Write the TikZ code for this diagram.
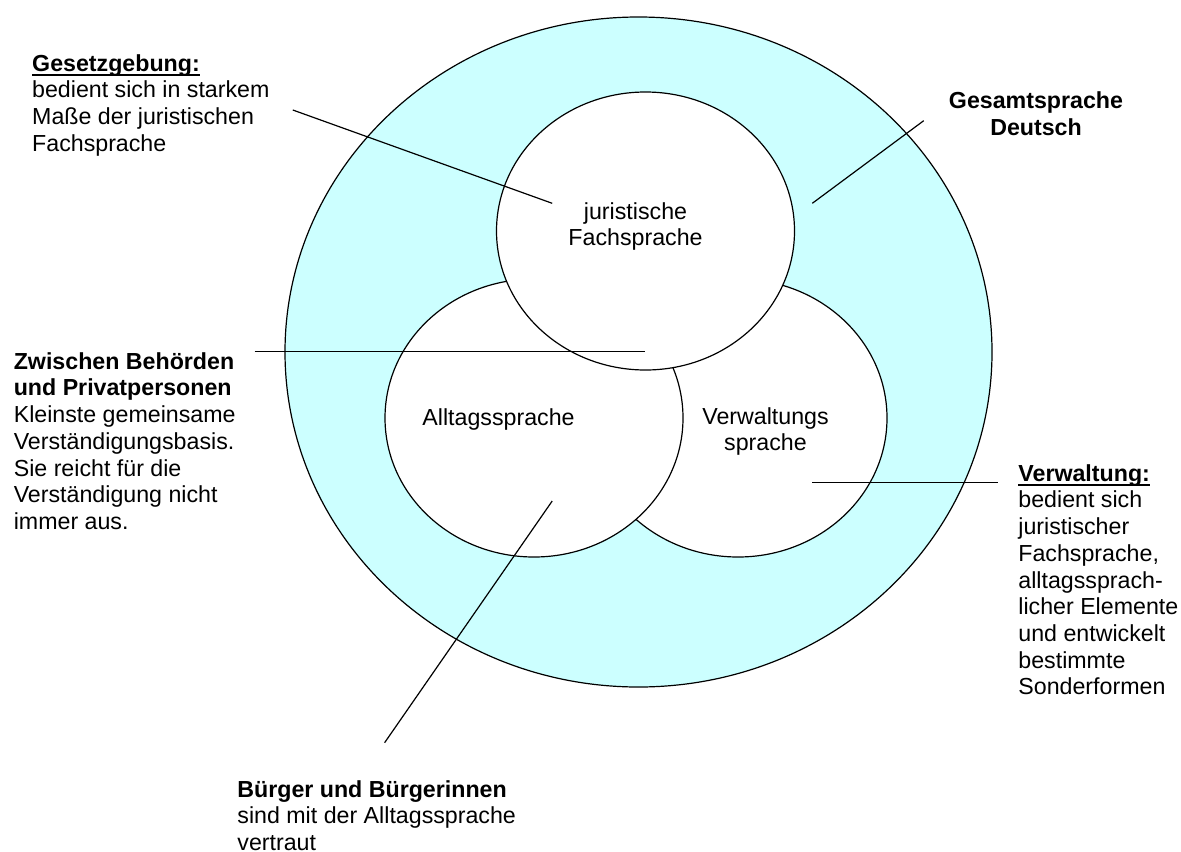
\documentclass[tikz,border=0pt]{standalone}
\usepackage{fontspec}
\setmainfont{Liberation Sans}
\usepackage{tikz}
\usetikzlibrary{positioning}

\definecolor{ringcyan}{RGB}{204,255,255}
\newcommand{\ulhead}[1]{\leavevmode\setbox0\hbox{\textbf{#1}}\rlap{\rule[-2.2pt]{\wd0}{0.8pt}}\box0}

\tikzset{
  lbl/.style={inner sep=0pt, align=left, font=\fontsize{11.6}{13.35}\selectfont},
  lblc/.style={lbl, align=center},
  ring/.style={draw=black, line width=0.6pt},
  pointer/.style={draw=black, line width=0.6pt}
}

\begin{document}
\begin{tikzpicture}[x=0.5pt, y=-0.5pt]
		\useasboundingbox (0,0) rectangle (1181,851);
		
		% Draw Shape
		\draw[ring, fill=ringcyan] (638.5,352) ellipse [x radius=353.5, y radius=335];
		\draw[ring, fill=white] (738,418) ellipse [x radius=149, y radius=139];
		\draw[ring, fill=white] (534,418) ellipse [x radius=149, y radius=139];
		\draw[ring, fill=white] (645.5,231) ellipse [x radius=149, y radius=139];
		
		% Pointer lines
		\coordinate (gesetz-a) at (292.8,110);
		\coordinate (gesetz-b) at (552.2,203.3);
		\coordinate (gesamt-a) at (923.7,120.7);
		\coordinate (gesamt-b) at (812.3,203.3);
		\coordinate (zwischen-a) at (254.5,351.7);
		\coordinate (zwischen-b) at (645,351.7);
		\coordinate (verwaltung-a) at (812.3,482.3);
		\coordinate (verwaltung-b) at (998.3,482.3);
		\coordinate (buerger-a) at (552.2,501);
		\coordinate (buerger-b) at (384.6,742.7);
		
		\draw[pointer] (gesetz-a) -- (gesetz-b);
		\draw[pointer] (gesamt-a) -- (gesamt-b);
		\draw[pointer] (zwischen-a) -- (zwischen-b);
		\draw[pointer] (verwaltung-a) -- (verwaltung-b);
		\draw[pointer] (buerger-a) -- (buerger-b);
		
		% Labels in the circles
		\node[lblc, anchor=north] (jurfach) at (635.5,202) {juristische\\Fachsprache};
		\node[lblc, anchor=north] (alltag) at (498.5,408) {Alltagssprache};
		\node[lblc, anchor=north] (verwsprache) at (765.5,407) {Verwaltungs\\sprache};
		
		% Labels outside
		\node[lblc, anchor=north] (gesamt) at (1036,91.5) {\textbf{Gesamtsprache}\\\textbf{Deutsch}};
		\node[lbl, anchor=north west] (gesetz) at (31.8,54) {\ulhead{Gesetzgebung:}\\bedient sich in starkem\\Maße der juristischen\\Fachsprache};
		\node[lbl, anchor=north west] (zwischen) at (13.4,352) {\textbf{Zwischen Behörden}\\\textbf{und Privatpersonen}\\Kleinste gemeinsame\\Verständigungsbasis.\\Sie reicht für die\\Verständigung nicht\\immer aus.};
		\node[lbl, anchor=north west] (verwaltung) at (1018,464) {\ulhead{Verwaltung:}\\bedient sich\\juristischer\\Fachsprache,\\alltagssprach-\\licher Elemente\\und entwickelt\\bestimmte\\Sonderformen};
		\node[lbl, anchor=north west] (buerger) at (237,780) {\textbf{Bürger und Bürgerinnen}\\sind mit der Alltagssprache\\vertraut};
		
\end{tikzpicture}
\end{document}
